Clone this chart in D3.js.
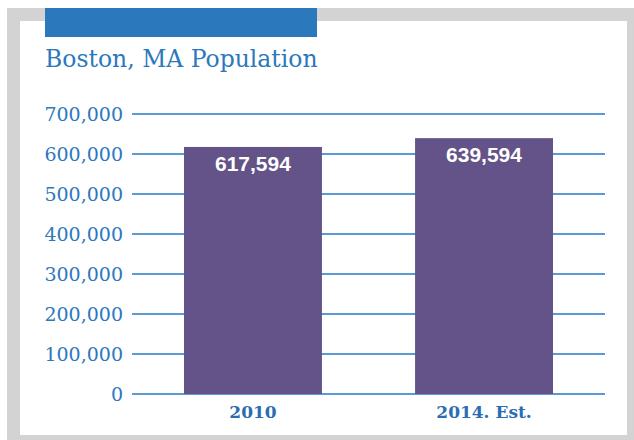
<!DOCTYPE html>
<html>
<head>
<meta charset="utf-8">
<script src="https://cdn.jsdelivr.net/npm/d3@7"></script>
<style>
  html, body { margin: 0; padding: 0; background: #ffffff; }
  svg { display: block; }
</style>
</head>
<body>
<svg id="chart" width="634" height="440"></svg>
<script>
// Boston population, census count and estimate
const categories = ["2010", "2014. Est."];
const population = [617594, 639594];
const yTicks = [0, 100000, 200000, 300000, 400000, 500000, 600000, 700000];
const title = "Boston, MA Population";

const svg = d3.select("#chart");
const W = 634, H = 440;

const blue = "#2b78bd";
const gridBlue = "#5b9bd5";
const purple = "#635388";

// frame: grey border with white panel
svg.append("rect").attr("x", 7).attr("y", 8).attr("width", W - 7).attr("height", H - 8).attr("fill", "#d3d3d3");
svg.append("rect").attr("x", 20).attr("y", 21).attr("width", 607).attr("height", 414).attr("fill", "#ffffff");

// header band
svg.append("rect").attr("x", 45).attr("y", 8).attr("width", 272).attr("height", 29).attr("fill", blue);

// title
svg.append("text")
  .attr("x", 45).attr("y", 67)
  .attr("fill", blue)
  .style("font-family", "'DejaVu Serif', serif")
  .style("font-size", "23.5px")
  .text(title);

const y = d3.scaleLinear().domain([0, 700000]).range([394, 114]);
const x = d3.scaleBand().domain(categories).range([132, 605]).paddingInner(0.403).paddingOuter(0.225);

// gridlines and value labels
const yAxis = svg.append("g")
  .attr("transform", "translate(132,0)")
  .call(d3.axisLeft(y).tickValues(yTicks).tickFormat(d3.format(",")).tickSize(0).tickPadding(9));
yAxis.select(".domain").remove();
yAxis.selectAll("text")
  .attr("fill", blue)
  .style("font-family", "'DejaVu Serif', serif")
  .style("font-size", "19px")
  .attr("dy", "0.36em");

svg.append("g").selectAll("line")
  .data(yTicks)
  .join("line")
  .attr("x1", 132).attr("x2", 605)
  .attr("y1", d => y(d)).attr("y2", d => y(d))
  .attr("stroke", gridBlue).attr("stroke-width", 2);

// bars
svg.append("g").selectAll("rect")
  .data(population)
  .join("rect")
  .attr("x", (d, i) => x(categories[i]))
  .attr("y", d => y(d))
  .attr("width", x.bandwidth())
  .attr("height", d => y(0) - y(d))
  .attr("fill", purple);

// value labels inside bars
svg.append("g").selectAll("text")
  .data(population)
  .join("text")
  .attr("x", (d, i) => x(categories[i]) + x.bandwidth() / 2)
  .attr("y", d => y(d) + 24)
  .attr("text-anchor", "middle")
  .attr("fill", "#ffffff")
  .style("font-family", "'Liberation Sans', Arial, sans-serif")
  .style("font-weight", "bold")
  .style("font-size", "21px")
  .text(d => d3.format(",")(d));

// category labels
svg.append("g").selectAll("text")
  .data(categories)
  .join("text")
  .attr("x", d => x(d) + x.bandwidth() / 2)
  .attr("y", 418)
  .attr("text-anchor", "middle")
  .attr("fill", "#2a6db3")
  .style("font-family", "'DejaVu Serif', serif")
  .style("font-weight", "bold")
  .style("font-size", "17px")
  .text(d => d);
</script>
</body>
</html>
